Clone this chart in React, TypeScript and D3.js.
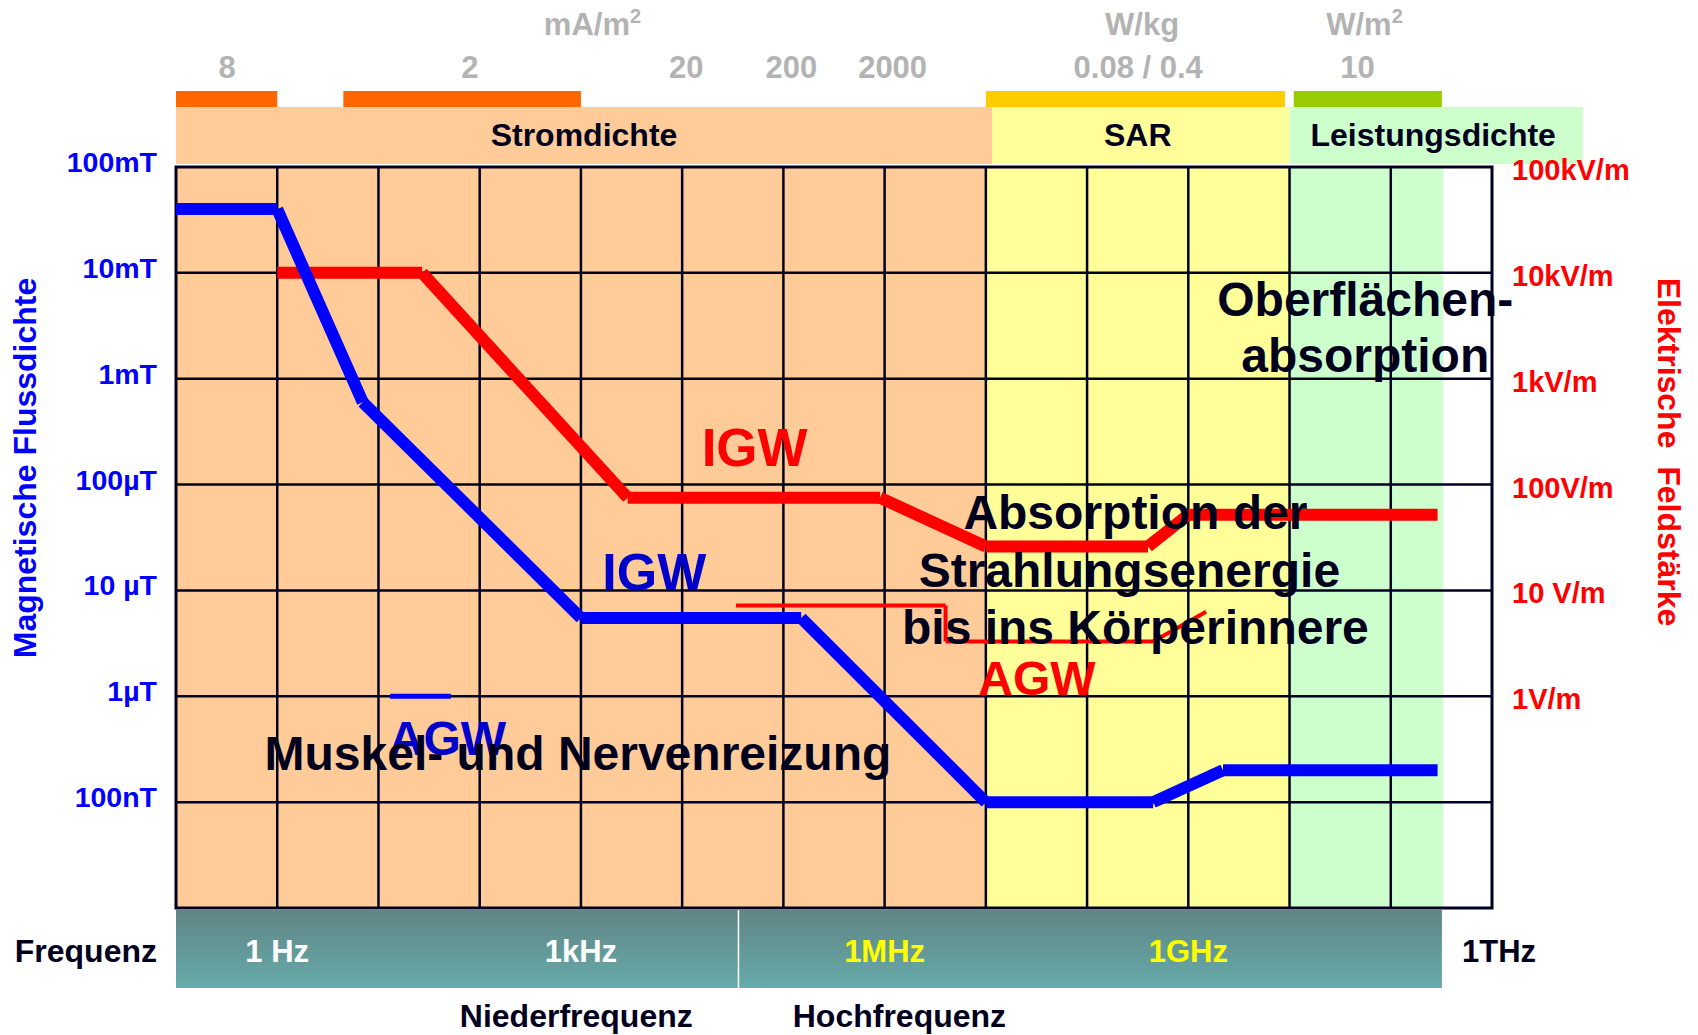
import React from 'react';
import * as d3 from 'd3';

// x axis: frequency decades (Hz)
const freqDecades = [0.1, 1, 10, 100, 1e3, 1e4, 1e5, 1e6, 1e7, 1e8, 1e9, 1e10, 1e11, 1e12];

// left axis: magnetic flux density (T)
const bTicks = [1e-1, 1e-2, 1e-3, 1e-4, 1e-5, 1e-6, 1e-7];
const bTickLabels = ['100mT', '10mT', '1mT', '100µT', '10 µT', '1µT', '100nT'];

// right axis: electric field (V/m)
const eTicks = [1e5, 1e4, 1e3, 1e2, 10, 1];
const eTickLabels = ['100kV/m', '10kV/m', '1kV/m', '100V/m', '10 V/m', '1V/m'];

// frequency band labels
const freqLabelValues = [1, 1e3, 1e6, 1e9];
const freqLabelTexts = ['1 Hz', '1kHz', '1MHz', '1GHz'];
const nfHfBoundary = 3.6e4;
const rangeNames = ['Niederfrequenz', 'Hochfrequenz'];
const rangeCenters = [900, 1.4e6];

// background zones inside the plot (Hz)
const zoneNames = ['Stromdichte', 'SAR', 'Leistungsdichte'];
const zoneFrom = [0.1, 1e7, 1e10];
const zoneTo = [1e7, 1e10, 3.3e11];
const headerFrom = [0.1, 1.15e7, 1e10];
const headerTo = [1.15e7, 1e10, 7.9e12];

// basic restriction bars on top
const limitBarFrom = [0.1, 4.5, 1e7, 1.1e10];
const limitBarTo = [1, 1e3, 0.9e10, 3.2e11];
const limitValueF = [0.32, 80, 1.1e4, 1.2e5, 1.2e6, 3.2e8, 4.7e10];
const limitValueText = ['8', '2', '20', '200', '2000', '0.08 / 0.4', '10'];
const unitF = [1.3e3, 3.5e8, 5.5e10];
const unitText = ['mA/m', 'W/kg', 'W/m'];
const unitSup = ['2', '', '2'];

// IGW magnetic (T)
const blueIgwF = [0.1, 1, 7, 1e3, 1.5e5, 1e7, 4.5e8, 2.2e9, 2.9e11];
const blueIgwB = [4e-2, 4e-2, 6e-4, 5.5e-6, 5.5e-6, 1e-7, 1e-7, 2e-7, 2e-7];
// AGW magnetic (T)
const blueAgwF = [13, 52];
const blueAgwB = [1e-6, 1e-6];
// IGW electric (V/m)
const redIgwF = [1, 27, 2.9e3, 9e5, 1e7, 4e8, 1e9, 2.9e11];
const redIgwE = [1e4, 1e4, 75, 75, 26, 26, 52, 52];
// AGW electric (V/m)
const redAgwF = [3.4e4, 4e6, 4e6, 4.5e8, 1.5e9];
const redAgwE = [7.2, 7.2, 3.3, 3.3, 6.3];

const W = 1698;
const H = 1035;
const plot = { left: 176, right: 1492, top: 167, bottom: 908 };
const FONT = '"Liberation Sans", Arial, sans-serif';
const INK = '#00001c';
const GRID = '#000022';
const GRAY = '#b3b3b3';
const zoneColors = ['#ffcc99', '#ffff99', '#ccffcc'];
const barColors = ['#ff6600', '#ff6600', '#ffcc00', '#99cc00'];

const x = d3.scaleLog().domain([0.1, 1e12]).range([plot.left, plot.right]);
const yB = d3.scaleLog().domain([1e-8, 0.1]).range([plot.bottom, plot.top]);
const yE = d3.scaleLog().domain([1e-2, 1e5]).range([plot.bottom, plot.top]);

type Pt = [number, number];

function segments(pts: Pt[]) {
  return d3.pairs(pts).map(([a, b], i) => (
    <line key={i} x1={a[0]} y1={a[1]} x2={b[0]} y2={b[1]} />
  ));
}

const App: React.FC = () => {
  const blueIgw: Pt[] = blueIgwF.map((f, i) => [x(f), yB(blueIgwB[i])]);
  const blueAgw: Pt[] = blueAgwF.map((f, i) => [x(f), yB(blueAgwB[i])]);
  const redIgw: Pt[] = redIgwF.map((f, i) => [x(f), yE(redIgwE[i])]);
  const redAgw: Pt[] = redAgwF.map((f, i) => [x(f), yE(redAgwE[i])]);

  const bandTop = 910;
  const bandBottom = 988;

  return (
    <svg
      width={W}
      height={H}
      style={{ position: 'absolute', left: 0, top: 0, background: '#fff' }}
      fontFamily={FONT}
      fontWeight="bold"
    >
      <defs>
        <linearGradient id="band" x1="0" y1="0" x2="0" y2="1">
          <stop offset="0" stopColor="#608585" />
          <stop offset="1" stopColor="#66abaa" />
        </linearGradient>
      </defs>

      {/* unit + value labels on top */}
      {unitF.map((f, i) => (
        <text key={'u' + i} x={x(f)} y={35} fontSize={31} fill={GRAY} textAnchor="middle">
          {unitText[i]}
          {unitSup[i] && (
            <tspan fontSize={20} dy={-12}>
              {unitSup[i]}
            </tspan>
          )}
        </text>
      ))}
      {limitValueF.map((f, i) => (
        <text key={'v' + i} x={x(f)} y={78} fontSize={31} fill={GRAY} textAnchor="middle">
          {limitValueText[i]}
        </text>
      ))}

      {/* limit bars */}
      {limitBarFrom.map((f, i) => (
        <rect key={'b' + i} x={x(f)} y={91} width={x(limitBarTo[i]) - x(f)} height={16} fill={barColors[i]} />
      ))}

      {/* header bands */}
      {zoneNames.map((name, i) => (
        <g key={'h' + i}>
          <rect x={x(headerFrom[i])} y={107} width={x(headerTo[i]) - x(headerFrom[i])} height={57} fill={zoneColors[i]} />
          <text
            x={(x(headerFrom[i]) + x(headerTo[i])) / 2 - (i === 0 ? 0 : 3)}
            y={146}
            fontSize={32}
            fill={INK}
            textAnchor="middle"
          >
            {name}
          </text>
        </g>
      ))}

      {/* plot zones */}
      {zoneNames.map((name, i) => (
        <rect
          key={'z' + i}
          x={x(zoneFrom[i])}
          y={plot.top}
          width={x(zoneTo[i]) - x(zoneFrom[i])}
          height={plot.bottom - plot.top}
          fill={zoneColors[i]}
        />
      ))}

      {/* grid */}
      <g stroke={GRID} strokeWidth={2.5}>
        {freqDecades.slice(1, -1).map((f) => (
          <line key={'gx' + f} x1={x(f)} x2={x(f)} y1={plot.top} y2={plot.bottom} />
        ))}
        {bTicks.slice(1).map((b) => (
          <line key={'gy' + b} x1={plot.left} x2={plot.right} y1={yB(b)} y2={yB(b)} />
        ))}
        <rect
          x={plot.left}
          y={plot.top}
          width={plot.right - plot.left}
          height={plot.bottom - plot.top}
          fill="none"
          strokeWidth={3}
        />
      </g>

      {/* left ticks */}
      {bTicks.map((b, i) => (
        <text key={'lb' + i} x={157} y={yB(b) + 5} fontSize={28.5} fill="#0000ff" textAnchor="end">
          {bTickLabels[i]}
        </text>
      ))}
      <text transform="translate(36,468) rotate(-90)" fontSize={32} fill="#0000ff" textAnchor="middle">
        Magnetische Flussdichte
      </text>

      {/* right ticks */}
      {eTicks.map((e, i) => (
        <text key={'re' + i} x={1512} y={yE(e) + 13} fontSize={29} fill="#ff0000">
          {eTickLabels[i]}
        </text>
      ))}
      <text
        transform="translate(1658,452) rotate(90)"
        fontSize={32}
        fill="#ff0000"
        textAnchor="middle"
        style={{ whiteSpace: 'pre' }}
      >
        {'Elektrische  Feldstärke'}
      </text>

      {/* limit curves */}
      <g stroke="#ff0000" strokeWidth={12} strokeLinecap="butt">
        {segments(redIgw)}
      </g>
      <g stroke="#ff0000" strokeWidth={4} strokeLinecap="butt">
        {segments(redAgw)}
      </g>
      <g stroke="#0000ff" strokeWidth={12} strokeLinecap="butt">
        {segments(blueIgw)}
      </g>
      <g stroke="#0000ff" strokeWidth={5} strokeLinecap="butt">
        {segments(blueAgw)}
      </g>

      {/* annotations */}
      <text x={x(5.2e4)} y={yB(2.2e-4) + 18} fontSize={53} fill="#ff0000" textAnchor="middle">
        IGW
      </text>
      <text x={x(5.3e3)} y={yB(1.5e-5) + 18} fontSize={52} fill="#0000cc" textAnchor="middle">
        IGW
      </text>
      <text x={x(48)} y={yB(4e-7) + 17} fontSize={48} fill="#0000cc" textAnchor="middle">
        AGW
      </text>
      <text x={x(3.2e7)} y={yB(1.5e-6) + 17} fontSize={48} fill="#ff0000" textAnchor="middle">
        AGW
      </text>
      <text x={x(1e3) - 3} y={yB(2e-7)} fontSize={48} fill={INK} textAnchor="middle">
        Muskel- und Nervenreizung
      </text>
      <text x={x(3e8)} y={yB(3.8e-5)} fontSize={48} fill={INK} textAnchor="middle">
        <tspan x={x(3e8)}>Absorption der</tspan>
        <tspan x={x(3e8) - 6} dy={57.5}>
          Strahlungsenergie
        </tspan>
        <tspan x={x(3e8)} dy={57.5}>
          bis ins Körperinnere
        </tspan>
      </text>
      <text x={x(5.6e10)} y={yB(3.9e-3)} fontSize={48} fill={INK} textAnchor="middle">
        <tspan x={x(5.6e10)}>Oberflächen-</tspan>
        <tspan x={x(5.6e10)} dy={56}>
          absorption
        </tspan>
      </text>

      {/* frequency band */}
      <rect x={plot.left} y={bandTop} width={x(3.2e11) - plot.left} height={bandBottom - bandTop} fill="url(#band)" />
      <line x1={x(nfHfBoundary)} x2={x(nfHfBoundary)} y1={bandTop} y2={bandBottom} stroke="#ffffff" strokeWidth={1.5} />
      {freqLabelValues.map((f, i) => (
        <text key={'fl' + i} x={x(f)} y={962} fontSize={31} fill={f >= 1e6 ? '#ffff00' : '#ffffff'} textAnchor="middle">
          {freqLabelTexts[i]}
        </text>
      ))}
      <text x={x(1e12) + 7} y={962} fontSize={31} fill={INK} textAnchor="middle">
        1THz
      </text>
      <text x={157} y={962} fontSize={32} fill={INK} textAnchor="end">
        Frequenz
      </text>
      {rangeNames.map((n, i) => (
        <text key={'rn' + i} x={x(rangeCenters[i])} y={1027} fontSize={32} fill={INK} textAnchor="middle">
          {n}
        </text>
      ))}
    </svg>
  );
};

export default App;
